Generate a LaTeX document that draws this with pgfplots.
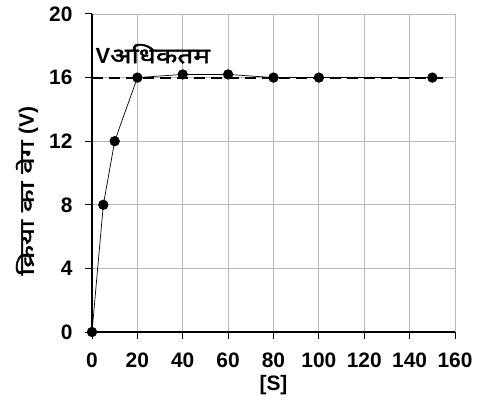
\documentclass[border=0pt]{standalone}
\usepackage{fontspec}
\setmainfont{Liberation Sans}
\newfontfamily\devfont[Script=Devanagari,Scale=0.98,FakeStretch=1.3,FakeBold=2]{Noto Sans}
\newfontfamily\devfontw[Script=Devanagari,Scale=0.95,FakeStretch=1.5,FakeBold=2]{Noto Sans}
\usepackage{pgfplots}
\pgfplotsset{compat=1.18}
\begin{document}
\begin{tikzpicture}
\begin{axis}[
    scale only axis,
    width=363bp, height=318bp,
    xmin=0, xmax=160, ymin=0, ymax=20,
    xtick={0,20,...,160}, ytick={0,4,...,20},
    axis lines=left,
    axis line style={line width=1.8pt, -},
    tick style={black, line width=1pt},
    tick align=outside,
    major tick length=7bp,
    grid=major,
    major grid style={gray!55, line width=0.9pt},
    /pgf/number format/assume math mode=true,
    ticklabel style={font=\fontsize{21}{24}\selectfont\bfseries},
    xticklabel style={yshift=-10bp},
    yticklabel style={xshift=-9bp},
    xlabel={[S]},
    ylabel={{\devfontw क्रिया का वेग} (V)},
    label style={font=\fontsize{21}{24}\selectfont\bfseries},
    xlabel style={yshift=-1bp},
    ylabel style={at={(axis description cs:-0.179,0.443)}, anchor=center},
    clip=false,
]
\addplot[black, line width=2pt, dash pattern=on 11bp off 6bp] coordinates {(0,16) (155,16)};
\addplot[black, line width=0.7pt, mark=*, mark size=4.8pt] coordinates {
(0,0) (5,8) (10,12) (20,16) (40,16.2) (60,16.2) (80,16) (100,16) (150,16)};
\node[anchor=west, font=\fontsize{22}{24}\selectfont\bfseries, inner sep=0pt] at (axis cs:1.5,17.5) {V{\devfont अधिकतम}};
\end{axis}
\pgfresetboundingbox
\path[use as bounding box] ([xshift=-92bp,yshift=-82bp]current axis.south west) rectangle ([xshift=24bp,yshift=14bp]current axis.north east);
\end{tikzpicture}
\end{document}
